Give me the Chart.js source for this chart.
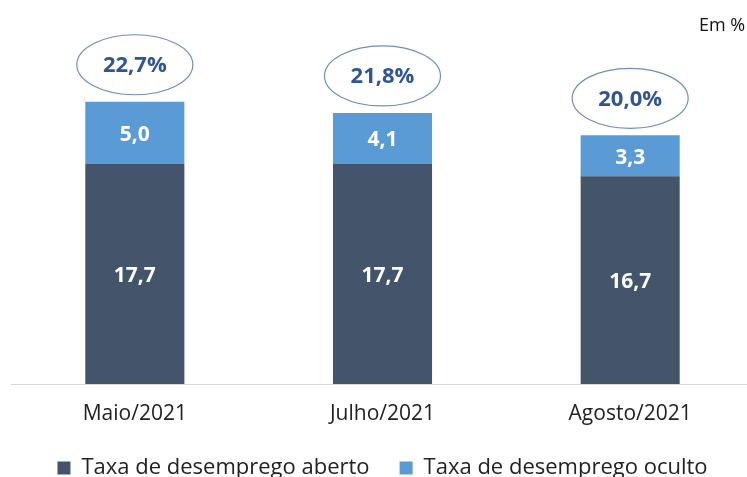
<!DOCTYPE html>
<html>
<head>
<meta charset="utf-8">
<script src="https://cdn.jsdelivr.net/npm/chart.js@4"></script>
<style>
  html, body { margin: 0; padding: 0; background: #fff; overflow: hidden; }
  #wrap { position: relative; width: 760px; height: 477px; }
  #unit { position: absolute; left: 699px; top: 12px; font: 18px 'Open Sans', sans-serif; color: #111; }
</style>
</head>
<body>
<div id="wrap">
  <canvas id="chart" width="760" height="477"></canvas>
  <div id="unit">Em %</div>
</div>
<script>
// dados do gráfico
const categorias = ['Maio/2021', 'Julho/2021', 'Agosto/2021'];
const desempregoAberto = [17.7, 17.7, 16.7];
const desempregoOculto = [5.0, 4.1, 3.3];
const totais = [22.7, 21.8, 20.0];

const fmt = v => v.toFixed(1).replace('.', ',');

// rótulos dentro das barras + elipses com o total
const labelsPlugin = {
    id: 'labelsPlugin',
    afterDatasetsDraw(chart) {
        const ctx = chart.ctx;
        const y = chart.scales.y;
        ctx.save();
        ctx.textAlign = 'center';
        ctx.textBaseline = 'middle';
        chart.data.datasets.forEach((ds, i) => {
            chart.getDatasetMeta(i).data.forEach((bar, j) => {
                const props = bar.getProps(['x', 'y', 'base'], true);
                ctx.fillStyle = '#FFFFFF';
                ctx.font = "bold 21px 'Open Sans', sans-serif";
                ctx.fillText(fmt(ds.data[j]), props.x, (props.y + props.base) / 2 + 2);
            });
        });
        const meta = chart.getDatasetMeta(0);
        meta.data.forEach((bar, j) => {
            const top = y.getPixelForValue(totais[j]);
            const cy = top - 37;
            ctx.beginPath();
            ctx.ellipse(bar.x, cy, 58, 30, 0, 0, Math.PI * 2);
            ctx.strokeStyle = '#6F8FBA';
            ctx.lineWidth = 1.2;
            ctx.stroke();
            ctx.fillStyle = '#2F5597';
            ctx.font = "bold 22px 'Open Sans', sans-serif";
            ctx.fillText(fmt(totais[j]) + '%', bar.x, cy + 1);
        });
        ctx.restore();
    }
};

new Chart(document.getElementById('chart'), {
    type: 'bar',
    data: {
        labels: categorias,
        datasets: [
            {
                label: 'Taxa de desemprego aberto',
                data: desempregoAberto,
                backgroundColor: '#44546A'
            },
            {
                label: 'Taxa de desemprego oculto',
                data: desempregoOculto,
                backgroundColor: '#5B9BD5'
            }
        ]
    },
    options: {
        responsive: false,
        animation: false,
        layout: { padding: { left: 11, right: 6, top: 11, bottom: -12 } },
        datasets: {
            bar: { barPercentage: 1, categoryPercentage: 0.4 }
        },
        plugins: {
            legend: {
                position: 'bottom',
                labels: {
                    boxWidth: 13,
                    boxHeight: 13,
                    padding: 30,
                    color: '#222',
                    font: { family: "'Open Sans', sans-serif", size: 22 }
                }
            },
            tooltip: { enabled: false }
        },
        scales: {
            x: {
                stacked: true,
                grid: { display: false, drawTicks: false },
                border: { color: '#D9D9D9' },
                ticks: {
                    padding: 17,
                    color: '#222',
                    font: { family: "'Open Sans', sans-serif", size: 21 }
                },
                // só o espaço que os rótulos realmente ocupam
                afterFit: scale => { scale.height = 43; }
            },
            y: {
                stacked: true,
                display: false,
                min: 0,
                max: 30
            }
        }
    },
    plugins: [labelsPlugin]
});
</script>
</body>
</html>
